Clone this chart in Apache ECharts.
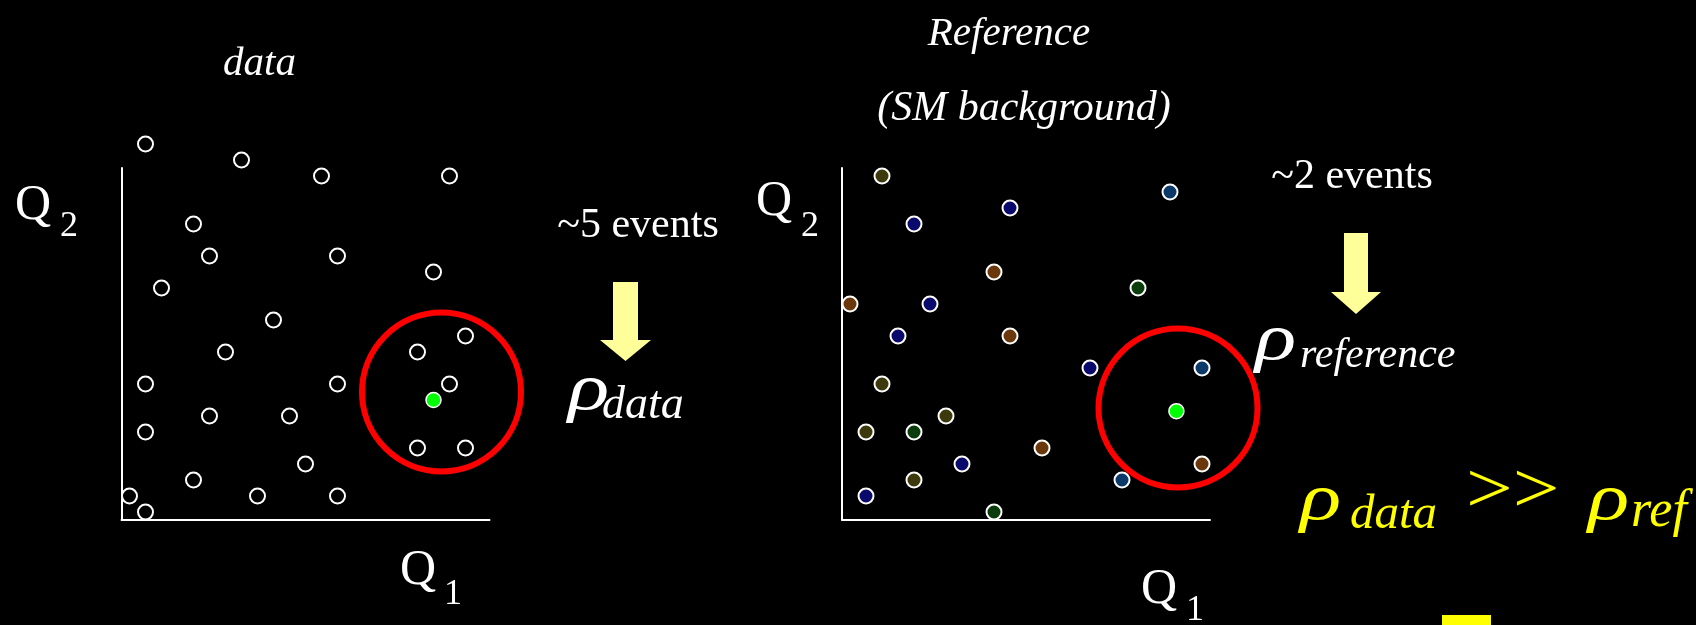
<!DOCTYPE html>
<html>
<head>
<meta charset="utf-8">
<script src="https://cdn.jsdelivr.net/npm/echarts@6/dist/echarts.min.js"></script>
<style>
  html, body { margin: 0; padding: 0; background: #000; }
  #chart { width: 1696px; height: 625px; }
</style>
</head>
<body>
<div id="chart"></div>
<script>
// Observed events in the (Q1, Q2) plane
const dataQ1 = [1.5, 7.5, 12.5, 20.5, 4.5, 5.5, 13.5, 19.5, 2.5, 9.5, 21.5, 6.5, 18.5, 1.5, 13.5, 20.5, 5.5, 10.5, 1.5, 18.5, 21.5, 11.5, 4.5, 0.5, 8.5, 13.5, 1.5];
const dataQ2 = [23.5, 22.5, 21.5, 21.5, 18.5, 16.5, 16.5, 15.5, 14.5, 12.5, 11.5, 10.5, 10.5, 8.5, 8.5, 8.5, 6.5, 6.5, 5.5, 4.5, 4.5, 3.5, 2.5, 1.5, 1.5, 1.5, 0.5];

// Simulated Standard Model background events, one process per colour
const refQ1 = [2.5, 20.5, 10.5, 4.5, 9.5, 18.5, 0.5, 5.5, 3.5, 10.5, 15.5, 22.5, 2.5, 6.5, 1.5, 4.5, 12.5, 7.5, 22.5, 4.5, 17.5, 1.5, 9.5];
const refQ2 = [21.5, 20.5, 19.5, 18.5, 15.5, 14.5, 13.5, 13.5, 11.5, 11.5, 9.5, 9.5, 8.5, 6.5, 5.5, 5.5, 4.5, 3.5, 3.5, 2.5, 2.5, 1.5, 0.5];
const refProcess = ['olive', 'steel', 'navy', 'navy', 'brown', 'green', 'brown', 'navy', 'navy', 'brown', 'navy', 'steel', 'olive', 'olive', 'olive', 'green', 'brown', 'navy', 'brown', 'olive', 'steel', 'navy', 'green'];
const processColors = { olive: '#3c3a0c', steel: '#0b3a6a', navy: '#0a0a6c', brown: '#6a380a', green: '#0a3c0c' };

// Probe event and neighbourhood used for the density estimate
const dataProbe = [19.5, 7.5];
const refProbe = [20.9, 6.8];
const dataNeighbourhood = [20, 8];
const refNeighbourhood = [21, 7];

const zip = (xs, ys) => xs.map((x, i) => [x, ys[i]]);

const chart = echarts.init(document.getElementById('chart'), null, { renderer: 'canvas' });

const serif = 'Liberation Serif';
const axisCommon = {
  type: 'value',
  axisLine: { show: true, onZero: false, lineStyle: { color: '#ffffff', width: 2 } },
  axisTick: { show: false },
  axisLabel: { show: false },
  splitLine: { show: false }
};

function txt(text, x, y, size, opts) {
  opts = opts || {};
  return {
    type: 'text', x: x, y: y, z: 10,
    scaleX: opts.scaleX || 1,
    style: {
      text: text,
      fill: opts.fill || '#ffffff',
      fontFamily: serif,
      fontSize: size,
      fontStyle: opts.italic ? 'italic' : 'normal',
      fontWeight: 'normal',
      textAlign: opts.align || 'left',
      textVerticalAlign: 'middle'
    }
  };
}

const ringStyle = { color: 'rgba(0,0,0,0)', borderColor: '#ff0000', borderWidth: 6, opacity: 1 };

const option = {
  backgroundColor: '#000000',
  animation: false,
  grid: [
    { left: 121.5, top: 168, width: 368, height: 352 },
    { left: 842, top: 168, width: 368, height: 352 }
  ],
  xAxis: [
    Object.assign({ gridIndex: 0, min: 0, max: 23 }, axisCommon),
    Object.assign({ gridIndex: 1, min: 0, max: 23 }, axisCommon)
  ],
  yAxis: [
    Object.assign({ gridIndex: 0, min: 0, max: 22 }, axisCommon),
    Object.assign({ gridIndex: 1, min: 0, max: 22 }, axisCommon)
  ],
  series: [
    {
      type: 'scatter', xAxisIndex: 0, yAxisIndex: 0, clip: false, z: 2,
      symbolSize: 159, itemStyle: ringStyle, silent: true,
      data: [dataNeighbourhood]
    },
    {
      type: 'scatter', xAxisIndex: 0, yAxisIndex: 0, clip: false, z: 3,
      symbolSize: 15,
      itemStyle: { color: '#000000', borderColor: '#ffffff', borderWidth: 2, opacity: 1 },
      data: zip(dataQ1, dataQ2)
    },
    {
      type: 'scatter', xAxisIndex: 0, yAxisIndex: 0, clip: false, z: 4,
      symbolSize: 15,
      itemStyle: { color: '#00ff00', borderColor: '#ffffff', borderWidth: 1.5, opacity: 1 },
      data: [dataProbe]
    },
    {
      type: 'scatter', xAxisIndex: 1, yAxisIndex: 1, clip: false, z: 2,
      symbolSize: 159, itemStyle: ringStyle, silent: true,
      data: [refNeighbourhood]
    },
    {
      type: 'scatter', xAxisIndex: 1, yAxisIndex: 1, clip: false, z: 3,
      symbolSize: 15,
      itemStyle: { borderColor: '#ffffff', borderWidth: 2, opacity: 1 },
      data: zip(refQ1, refQ2).map((v, i) => ({ value: v, itemStyle: { color: processColors[refProcess[i]] } }))
    },
    {
      type: 'scatter', xAxisIndex: 1, yAxisIndex: 1, clip: false, z: 4,
      symbolSize: 15,
      itemStyle: { color: '#00ff00', borderColor: '#ffffff', borderWidth: 1.5, opacity: 1 },
      data: [refProbe]
    }
  ],
  graphic: [
    // panel titles
    txt('data', 259.5, 64, 41, { italic: true, align: 'center' }),
    txt('Reference', 1009, 34, 41, { italic: true, align: 'center' }),
    txt('(SM background)', 1024, 109, 42, { italic: true, align: 'center' }),

    // axis names
    txt('Q', 15, 206, 50), txt('2', 60, 227, 36),
    txt('Q', 400, 571, 50), txt('1', 444, 595, 36),
    txt('Q', 756, 202, 50), txt('2', 801, 227, 36),
    txt('Q', 1141, 590, 50), txt('1', 1186, 611, 36),

    // event counts inside the neighbourhood
    txt('~5 events', 638, 226, 42, { align: 'center' }),
    txt('~2 events', 1352, 177, 42, { align: 'center' }),

    // arrows towards the densities
    { type: 'polygon', z: 10, shape: { points: [[613, 282], [638, 282], [638, 340], [651, 340], [625.5, 361], [600, 340], [613, 340]] }, style: { fill: '#ffff99' } },
    { type: 'polygon', z: 10, shape: { points: [[1344, 233], [1368, 233], [1368, 292], [1381, 292], [1356, 314], [1331, 292], [1344, 292]] }, style: { fill: '#ffff99' } },

    // density symbols
    txt('ρ', 568, 392, 66, { italic: true, scaleX: 1.3 }), txt('data', 602, 406, 46, { italic: true }),
    txt('ρ', 1255, 342, 66, { italic: true, scaleX: 1.3 }), txt('reference', 1300, 356, 42, { italic: true }),

    // comparison
    txt('ρ', 1300, 502, 66, { italic: true, fill: '#ffff00', scaleX: 1.3 }),
    txt('data', 1350, 515, 49, { italic: true, fill: '#ffff00' }),
    txt('>>', 1466, 493, 72, { fill: '#ffff00', scaleX: 1.15 }),
    txt('ρ', 1588, 502, 66, { italic: true, fill: '#ffff00', scaleX: 1.3 }),
    txt('ref', 1631, 512, 52, { italic: true, fill: '#ffff00' }),
    { type: 'rect', z: 10, shape: { x: 1442, y: 615, width: 49, height: 12 }, style: { fill: '#ffff00' } }
  ]
};

chart.setOption(option);
</script>
</body>
</html>
